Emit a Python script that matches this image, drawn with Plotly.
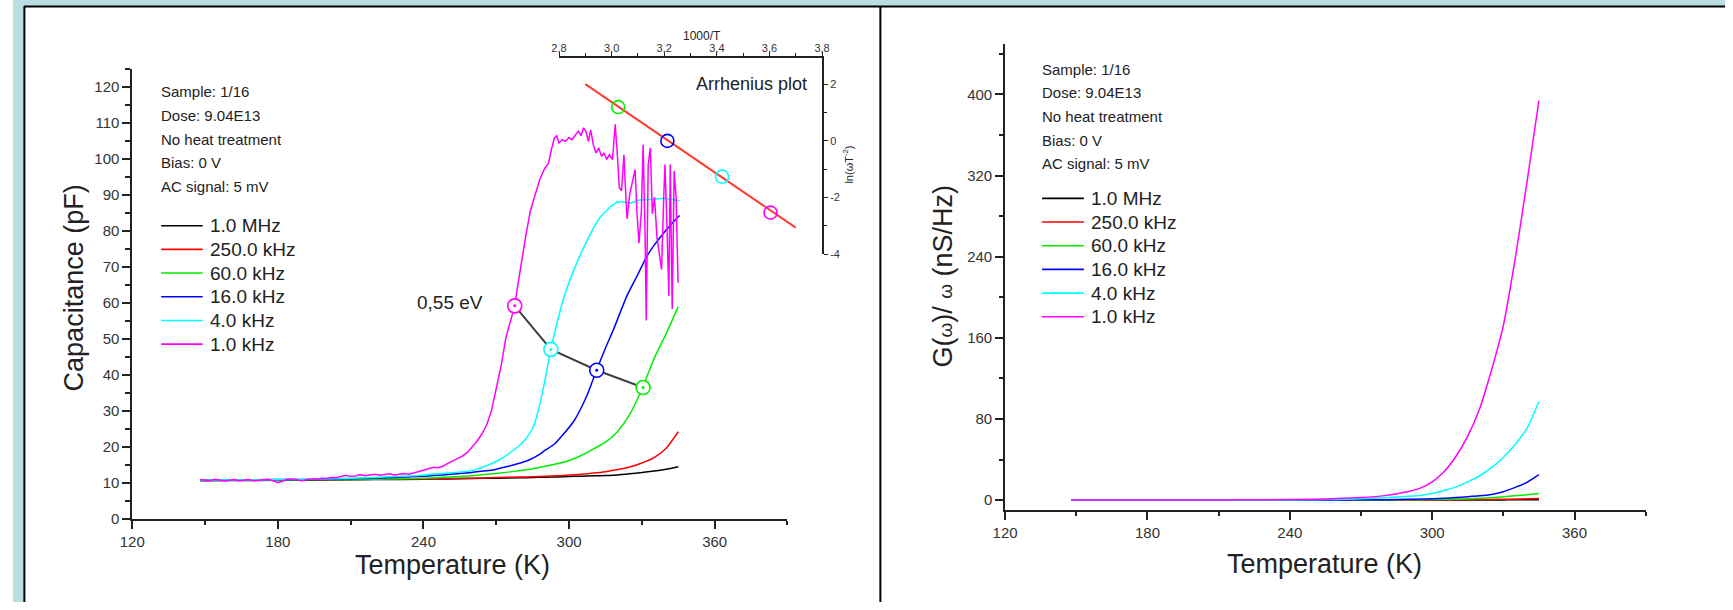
import plotly.graph_objects as go

W, H = 1733, 610

# ---------------- data: left panel, capacitance (pF) vs temperature (K) ----------------
series_names = ["1.0 MHz", "250.0 kHz", "60.0 kHz", "16.0 kHz", "4.0 kHz", "1.0 kHz"]
series_colors = ["#000000", "#ff0000", "#00ee00", "#0000ff", "#00ffff", "#ff00ff"]

T_black = [148, 160, 180, 200, 220, 240, 250, 260, 270, 280, 285, 290, 295, 300, 305, 310, 315, 320, 325, 330, 335, 340, 345]
C_black = [10.6, 10.65, 10.7, 10.8, 10.9, 11.0, 11.1, 11.2, 11.3, 11.4, 11.5, 11.55, 11.65, 11.75, 11.85, 11.95, 12.05, 12.2, 12.5, 12.85, 13.3, 13.8, 14.5]

T_red = [148, 160, 180, 200, 220, 240, 250, 260, 270, 280, 285, 290, 295, 300, 305, 310, 315, 320, 325, 330, 335, 340, 345]
C_red = [10.7, 10.7, 10.8, 10.9, 11.0, 11.1, 11.2, 11.3, 11.45, 11.6, 11.7, 11.8, 11.95, 12.15, 12.4, 12.7, 13.1, 13.7, 14.4, 15.5, 17.0, 19.6, 24.2]

T_green = [148, 180, 200, 220, 240, 250, 260, 270, 280, 285, 290, 295, 300, 305, 310, 315, 320, 325, 330, 335, 340, 345]
C_green = [10.7, 10.8, 10.9, 11.0, 11.3, 11.6, 12.0, 12.6, 13.4, 13.9, 14.6, 15.3, 16.2, 17.6, 19.4, 21.3, 24.3, 29.0, 36.0, 44.5, 51.5, 59.0]

T_blue = [148, 180, 200, 220, 240, 246, 250, 260, 267, 270, 275, 280, 283, 288, 290, 294, 297, 302, 307.5, 311.3, 315, 318.4, 323.8, 328, 332, 335, 338.8, 342, 345.5]
C_blue = [10.8, 10.9, 11.0, 11.3, 11.8, 12.1, 12.3, 12.9, 13.4, 13.8, 14.6, 15.5, 16.2, 18.0, 19.0, 20.8, 23.0, 27.2, 34.5, 41.3, 47.5, 52.8, 61.9, 67.5, 72.9, 76.0, 79.3, 81.8, 84.3]

T_cyan = [148, 180, 200, 220, 239.4, 250, 259.8, 265, 270.7, 276, 280.2, 283, 285.7, 289, 292.5, 296, 298, 302, 307.5, 312.9, 318.4, 321, 325, 329, 334.7, 338.8, 345.5]
C_cyan = [10.8, 10.9, 11.1, 11.5, 12.1, 12.7, 13.4, 14.5, 16.2, 18.5, 20.8, 23.0, 26.3, 35.0, 47.1, 57.0, 61.9, 69.2, 77.5, 83.9, 87.5, 88.2, 87.8, 88.6, 88.8, 89.1, 88.4]

T_magenta = [148, 150, 152, 154, 156, 158, 160, 162, 164, 166, 168, 170, 172, 174, 176, 178, 180, 182, 184, 186,
             188, 190, 192, 194, 196, 198, 200, 202, 204, 206, 208, 210, 212, 214, 216, 218, 220, 222, 224, 226,
             228, 230, 232, 234, 236, 238, 240, 242, 244, 246, 248, 250, 252, 254, 256, 258, 260, 262, 264, 266,
             268, 270, 272, 274, 276, 277.6, 279, 280.5, 282, 284, 286, 288, 290, 291.5, 292.5, 293.9,
             294.9, 295.8, 297.2, 298.5, 299.9, 301.2, 302.6, 303.9, 304.9, 306.0, 307.0, 308.0, 308.9, 310.0,
             311.1, 312.2, 313.4, 314.4, 315.5, 316.6, 317.9, 319.0, 319.8, 320.7, 321.6, 322.6, 323.4, 323.9,
             325.0, 326.1, 327.2, 328.0, 328.8, 329.8, 330.5, 331.3, 331.8, 332.6, 333.5, 334.3, 335.2, 336.2,
             337.3, 338.1, 339.0, 339.5, 340.3, 341.1, 341.7, 342.5, 343.3, 344.1, 344.9]
C_magenta = [10.9, 10.7, 10.6, 11.0, 10.8, 10.5, 10.7, 10.9, 10.6, 10.8, 10.9, 10.6, 10.7, 10.8, 11.0, 10.6, 10.1, 10.5, 11.0, 11.1,
             10.8, 10.6, 10.9, 11.1, 11.0, 11.3, 11.2, 11.5, 11.4, 11.7, 12.1, 11.8, 11.9, 12.3, 12.0, 12.2, 12.4, 12.1, 12.3, 12.5,
             12.2, 12.4, 12.6, 12.4, 12.7, 13.0, 13.5, 13.9, 14.3, 14.2, 14.6, 15.4, 16.0, 16.6, 17.4, 18.4, 19.8, 21.5, 23.5, 26.0,
             30.0, 36.0, 42.5, 50.5, 55.5, 59.2, 65.5, 72.0, 78.0, 85.5, 90.0, 94.5, 97.5, 98.8, 102.0, 105.8,
             106.5, 104.5, 105.4, 104.9, 106.0, 105.4, 106.7, 107.8, 106.5, 108.7, 107.6, 104.9, 108.1, 104.0,
             101.7, 103.1, 100.8, 101.7, 99.9, 101.2, 99.9, 109.7, 102.2, 92.1, 91.2, 101.2, 89.4, 83.4,
             90.3, 94.0, 97.1, 84.8, 76.6, 85.7, 104.0, 80.2, 55.1, 98.5, 103.1, 84.8, 89.4, 78.4,
             72.9, 69.3, 89.4, 98.5, 82.1, 62.0, 98.5, 58.3, 96.7, 89.4, 65.6]

# points marked on the capacitance curves (1, 4, 16, 60 kHz)
circle_T = [277.6, 292.5, 311.4, 330.5]
circle_C = [59.2, 47.1, 41.3, 36.5]
circle_colors = ["#ff00ff", "#00ffff", "#0000ff", "#00ee00"]

# ---------------- data: Arrhenius inset ----------------
arr_x = [3.025, 3.212, 3.420, 3.604]        # 1000/T
arr_y = [1.19, 0.00, -1.26, -2.53]          # ln(omega T^-2)
arr_colors = ["#00ee00", "#0000ff", "#00ffff", "#ff00ff"]
fit_x = [2.90, 3.70]
fit_y = [2.00, -3.06]
inset_xticks = [2.8, 3.0, 3.2, 3.4, 3.6, 3.8]
inset_xticktext = ["2,8", "3,0", "3,2", "3,4", "3,6", "3,8"]
inset_yticks = [-4, -2, 0, 2]
inset_yticktext = ["-4", "-2", "0", "2"]

# ---------------- data: right panel, G(w)/w (nS/Hz) ----------------
T_g = [148, 180, 200, 220, 240, 250, 260, 270, 280, 290, 295, 300, 305, 310, 315, 320, 325, 330, 335, 340, 345]
G_black = [0.0, 0.0, 0.0, 0.0, 0.0, 0.0, 0.0, 0.0, 0.05, 0.05, 0.05, 0.08, 0.1, 0.1, 0.12, 0.15, 0.18, 0.2, 0.22, 0.25, 0.3]
G_red = [0, 0, 0, 0, 0, 0, 0.02, 0.05, 0.1, 0.15, 0.18, 0.22, 0.28, 0.35, 0.42, 0.5, 0.62, 0.8, 1.0, 1.25, 1.6]
G_green = [0, 0, 0, 0, 0, 0.02, 0.05, 0.1, 0.2, 0.35, 0.45, 0.6, 0.8, 1.0, 1.35, 1.8, 2.4, 3.2, 4.2, 5.2, 6.4]
G_blue = [0, 0, 0, 0, 0.05, 0.08, 0.15, 0.25, 0.4, 0.8, 1.0, 1.3, 1.8, 2.5, 3.3, 4.2, 5.6, 8.3, 12.5, 17.5, 25.0]
G_cyan = [0, 0, 0.05, 0.1, 0.2, 0.35, 0.6, 1.2, 2.3, 3.8, 4.6, 6.5, 9.5, 13.0, 18.0, 24.0, 32.0, 42.0, 55.0, 71.0, 97.0]
G_magenta = [0.05, 0.1, 0.15, 0.25, 0.5, 0.9, 1.5, 2.5, 4.4, 8.5, 11.8, 18.0, 28.0, 43.0, 63.0, 90.0, 128.0, 172.0, 238.0, 314.0, 394.0]

info_lines = ["Sample: 1/16", "Dose: 9.04E13", "No heat treatment", "Bias: 0 V", "AC signal: 5 mV"]

# ---------------- helpers (pixel -> paper) ----------------
def px(x):
    return x / W

def py(y):
    return 1 - y / H

FONT = "Arial, 'Liberation Sans', sans-serif"
AX = "#222222"
TICKC = "#333333"
FRAME_BLUE = "#badfe3"

fig = go.Figure()

# left panel curves
left_sets = [(T_black, C_black), (T_red, C_red), (T_green, C_green), (T_blue, C_blue), (T_cyan, C_cyan)]
for (tx, cy), name, col in zip(left_sets, series_names[:5], series_colors[:5]):
    fig.add_trace(go.Scatter(x=tx, y=cy, mode="lines", name=name, showlegend=False,
                             line=dict(color=col, width=1.5, shape="spline", smoothing=0.6),
                             xaxis="x", yaxis="y"))
fig.add_trace(go.Scatter(x=T_magenta, y=C_magenta, mode="lines", name=series_names[5], showlegend=False,
                         line=dict(color=series_colors[5], width=1.5), xaxis="x", yaxis="y"))

# connecting line + circles
fig.add_trace(go.Scatter(x=circle_T, y=circle_C, mode="lines", showlegend=False,
                         line=dict(color="#404040", width=2), xaxis="x", yaxis="y"))
fig.add_trace(go.Scatter(x=circle_T, y=circle_C, mode="markers", showlegend=False,
                         marker=dict(symbol="circle", size=14, color="white",
                                     line=dict(color=circle_colors, width=1.6)),
                         xaxis="x", yaxis="y"))
fig.add_trace(go.Scatter(x=circle_T, y=circle_C, mode="markers", showlegend=False,
                         marker=dict(symbol="circle", size=3, color=circle_colors),
                         xaxis="x", yaxis="y"))

# inset
fig.add_trace(go.Scatter(x=fit_x, y=fit_y, mode="lines", showlegend=False,
                         line=dict(color="#ff3b30", width=2), xaxis="x3", yaxis="y3"))
fig.add_trace(go.Scatter(x=arr_x, y=arr_y, mode="markers", showlegend=False,
                         marker=dict(symbol="circle-open", size=13, color=arr_colors, line=dict(width=1.6)),
                         xaxis="x3", yaxis="y3"))

# right panel curves
right_sets = [G_black, G_red, G_green, G_blue, G_cyan, G_magenta]
for gy, name, col in zip(right_sets, series_names, series_colors):
    fig.add_trace(go.Scatter(x=T_g, y=gy, mode="lines", name=name, showlegend=False,
                             line=dict(color=col, width=1.5, shape="spline", smoothing=0.6),
                             xaxis="x2", yaxis="y2"))

common_axis = dict(showline=True, linecolor=AX, linewidth=1.8, ticks="outside", tickcolor=AX,
                   tickwidth=1.5, ticklen=8, showgrid=False, zeroline=False,
                   tickfont=dict(family=FONT, size=15, color=TICKC))

inset_axis = dict(showline=True, linecolor=AX, linewidth=1.8, ticks="outside", tickcolor=AX,
                  tickwidth=1.2, ticklen=4, showgrid=False, zeroline=False,
                  tickfont=dict(family=FONT, size=11, color=TICKC))

layout = dict(
    width=W, height=H, autosize=False,
    margin=dict(l=0, r=0, t=0, b=0, pad=0),
    paper_bgcolor="white", plot_bgcolor="rgba(0,0,0,0)",
    showlegend=False,
    font=dict(family=FONT, color="#222"),
    xaxis=dict(domain=[px(120.7), px(784)], range=[120, 390], anchor="y",
               tickmode="linear", tick0=120, dtick=60,
               minor=dict(ticks="outside", ticklen=4, tick0=120, dtick=30, tickcolor=AX, tickwidth=1.5),
               **common_axis),
    yaxis=dict(domain=[py(525.7), py(70.1)], range=[0, 125], anchor="x",
               tickmode="linear", tick0=0, dtick=10,
               minor=dict(ticks="outside", ticklen=5, tick0=0, dtick=5, tickcolor=AX, tickwidth=1.5),
               **common_axis),
    xaxis2=dict(domain=[px(1004.3), px(1652.7)], range=[120, 390], anchor="y2",
                tickmode="linear", tick0=120, dtick=60,
                minor=dict(ticks="outside", ticklen=4, tick0=120, dtick=30, tickcolor=AX, tickwidth=1.5),
                **common_axis),
    yaxis2=dict(domain=[py(516.7), py(44.3)], range=[-9.7, 450], anchor="x2",
                tickmode="linear", tick0=0, dtick=80,
                minor=dict(ticks="outside", ticklen=4, tick0=0, dtick=40, tickcolor=AX, tickwidth=1.5),
                **common_axis),
    xaxis3=dict(domain=[px(552.7), px(819)], range=[2.8, 3.8], anchor="y3", side="top",
                tickmode="array", tickvals=inset_xticks, ticktext=inset_xticktext,
                ticklabelstandoff=-5,
                minor=dict(ticks="outside", ticklen=3, tick0=2.8, dtick=0.1, tickcolor=AX, tickwidth=1.2),
                **inset_axis),
    yaxis3=dict(domain=[py(257.7), py(58.3)], range=[-4, 2.94], anchor="x3", side="right",
                tickmode="array", tickvals=inset_yticks, ticktext=inset_yticktext,
                minor=dict(ticks="outside", ticklen=3, tick0=0, dtick=1, tickcolor=AX, tickwidth=1.2),
                **inset_axis),
)

shapes = [
    # light-blue frame strips (top and left)
    dict(type="rect", xref="paper", yref="paper", x0=0, x1=1, y0=py(6), y1=1,
         fillcolor=FRAME_BLUE, line=dict(width=0), layer="below"),
    dict(type="rect", xref="paper", yref="paper", x0=0, x1=px(11), y0=0, y1=1,
         fillcolor=FRAME_BLUE, line=dict(width=0), layer="below"),
    # black panel borders
    dict(type="line", xref="paper", yref="paper", x0=px(11), x1=1, y0=py(6.5), y1=py(6.5),
         line=dict(color="#000", width=2), layer="below"),
    dict(type="line", xref="paper", yref="paper", x0=px(11.5), x1=px(11.5), y0=py(6.5), y1=0,
         line=dict(color="#000", width=2), layer="below"),
    dict(type="line", xref="paper", yref="paper", x0=px(878), x1=px(878), y0=py(6.5), y1=0,
         line=dict(color="#000", width=2), layer="below"),
]

annotations = []

def add_text(x, y, text, size, xanchor="left", yanchor="middle", angle=0, color="#222"):
    annotations.append(dict(x=px(x), y=py(y), xref="paper", yref="paper", text=text, showarrow=False,
                            xanchor=xanchor, yanchor=yanchor, textangle=angle,
                            font=dict(family=FONT, size=size, color=color)))

# info text blocks
for i, line in enumerate(info_lines):
    add_text(148, 93 + 24 * i, line, 15)
    add_text(1040, 70 + 24 * i, line, 15)

# manual legends
for i, (name, col) in enumerate(zip(series_names, series_colors)):
    yl = 228.7 + 24 * i
    shapes.append(dict(type="line", xref="paper", yref="paper", x0=px(150), x1=px(192), y0=py(yl), y1=py(yl),
                       line=dict(color=col, width=1.6)))
    add_text(197, yl, name, 19)
    yr = 201 + 24 * i
    shapes.append(dict(type="line", xref="paper", yref="paper", x0=px(1041.7), x1=px(1084), y0=py(yr), y1=py(yr),
                       line=dict(color=col, width=1.6)))
    add_text(1089, yr, name, 19)

# axis titles and labels
add_text(62, 292, "Capacitance (pF)", 27, xanchor="center", angle=-90)
add_text(445, 573, "Temperature (K)", 27, xanchor="center")
add_text(941.7, 280, "G(<span style='font-size:19px'>ω</span>)/ <span style='font-size:19px'>ω</span> (nS/Hz)",
         27, xanchor="center", angle=-90)
add_text(1328, 572, "Temperature (K)", 27, xanchor="center")
add_text(697, 36, "1000/T", 12, xanchor="center")
add_text(845, 167, "ln(ωT<sup>-2</sup>)", 11, xanchor="center", angle=-90)
add_text(748, 85, "Arrhenius plot", 18, xanchor="center")
add_text(442, 307, "0,55 eV", 19, xanchor="center")

layout["shapes"] = shapes
layout["annotations"] = annotations
fig.update_layout(**layout)

fig.write_html("out.html")
